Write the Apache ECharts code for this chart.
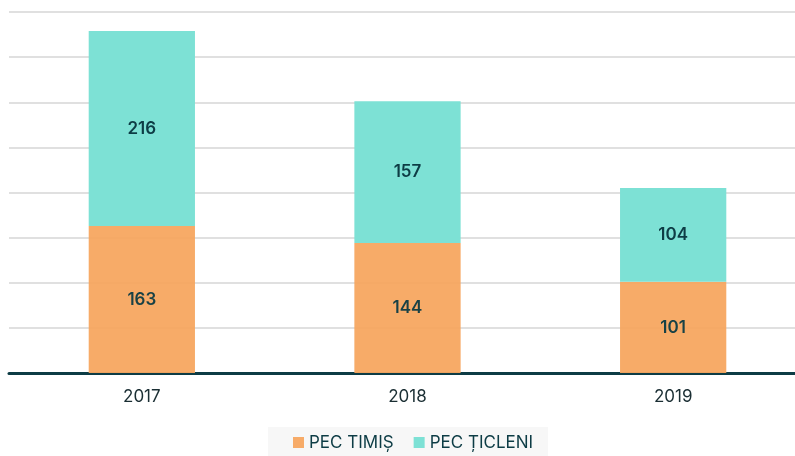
<!DOCTYPE html>
<html>
<head>
<meta charset="utf-8">
<script src="https://cdn.jsdelivr.net/npm/echarts@6/dist/echarts.min.js"></script>
<style>
  html, body { margin: 0; padding: 0; background: #fff; overflow: hidden; }
  #chart { width: 806px; height: 456px; }
</style>
</head>
<body>
<div id="chart"></div>
<script>
var years = ['2017', '2018', '2019'];
var timis = [163, 144, 101];
var ticleni = [216, 157, 104];
var seriesNames = ['PEC TIMIȘ', 'PEC ȚICLENI'];

var textColor = '#0d3c45';

var chart = echarts.init(document.getElementById('chart'));

var labelStyle = {
  show: true,
  position: 'inside',
  color: textColor,
  fontFamily: 'Inter',
  fontSize: 17,
  fontWeight: 600
};

chart.setOption({
  animation: false,
  grid: { left: 9, right: 0, top: 12, bottom: 83 },
  legend: {
    bottom: -2,
    left: 268,
    itemWidth: 11,
    itemHeight: 11,
    itemGap: 20,
    padding: [7, 15, 7, 25],
    backgroundColor: '#f7f7f7',
    icon: 'rect',
    textStyle: { color: textColor, fontFamily: 'Inter', fontSize: 17 },
    data: seriesNames
  },
  xAxis: {
    type: 'category',
    data: years,
    axisLine: { lineStyle: { color: '#0d3c45', width: 3 } },
    axisTick: { show: false },
    axisLabel: { color: '#1a2e33', fontFamily: 'Inter', fontSize: 17, margin: 15 }
  },
  yAxis: {
    type: 'value',
    min: 0,
    max: 400,
    interval: 50,
    axisLabel: { show: false },
    axisLine: { show: false },
    axisTick: { show: false },
    splitLine: { lineStyle: { color: '#d6d6d6', width: 1.5 } }
  },
  series: [
    {
      name: seriesNames[0],
      type: 'bar',
      stack: 'total',
      data: timis,
      barWidth: '40%',
      itemStyle: { color: '#f7a660', opacity: 0.95 },
      label: labelStyle
    },
    {
      name: seriesNames[1],
      type: 'bar',
      stack: 'total',
      data: ticleni,
      barWidth: '40%',
      itemStyle: { color: '#7de1d5' },
      label: labelStyle
    }
  ]
});
</script>
</body>
</html>
